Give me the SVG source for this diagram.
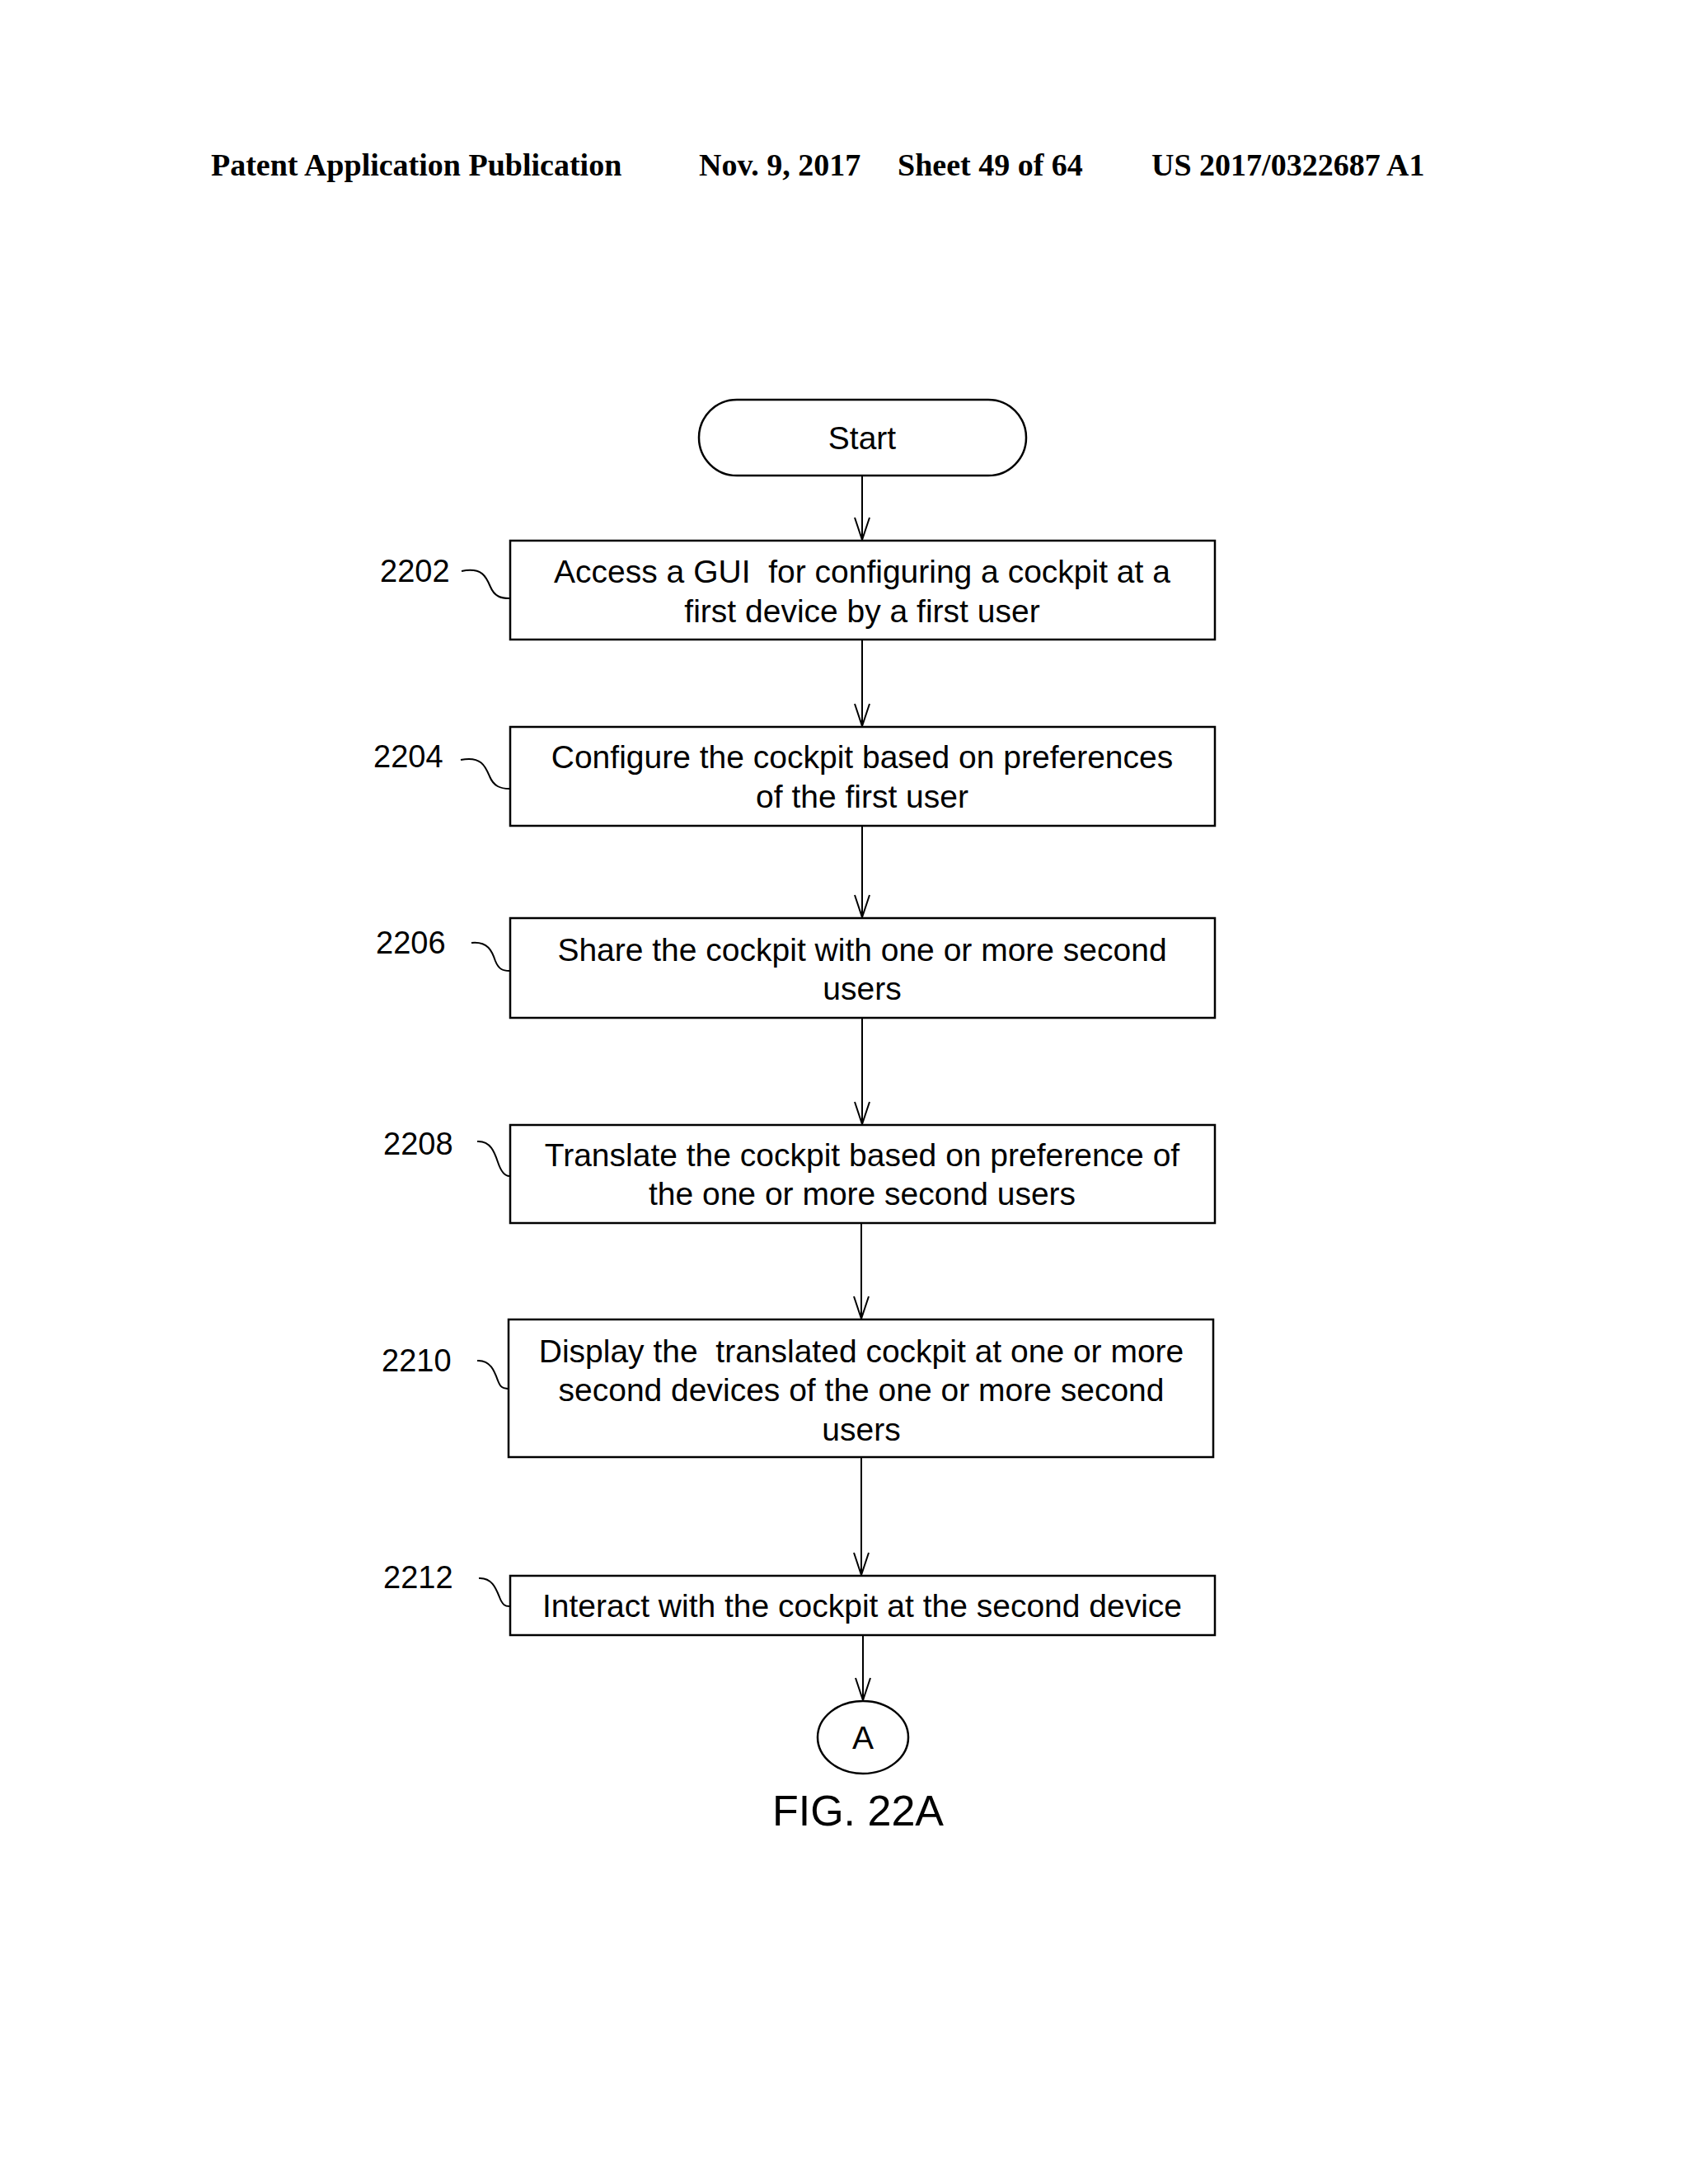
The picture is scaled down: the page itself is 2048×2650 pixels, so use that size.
<svg xmlns="http://www.w3.org/2000/svg" width="2048" height="2650" viewBox="0 0 2048 2650" xml:space="preserve">
<style>
.hd{font-family:"Liberation Serif",serif;font-weight:bold;font-size:38px;fill:#000}
.t{font-family:"Liberation Sans",Arial,sans-serif;font-size:39px;fill:#000;text-anchor:middle;white-space:pre}
.lb{font-family:"Liberation Sans",Arial,sans-serif;font-size:38px;fill:#000}
.b{fill:#fff;stroke:#000;stroke-width:2.5}
.c{fill:none;stroke:#000;stroke-width:2}
</style>
<defs><marker id="ar" markerWidth="30" markerHeight="20" refX="28" refY="10" orient="auto" markerUnits="userSpaceOnUse" viewBox="0 0 30 20"><path d="M1,1 L28,10 L1,19" fill="none" stroke="#000" stroke-width="2"/></marker></defs>
<rect width="2048" height="2650" fill="#fff"/>
<text class="hd" x="256" y="213">Patent Application Publication</text>
<text class="hd" x="848" y="213">Nov. 9, 2017</text>
<text class="hd" x="1089" y="213">Sheet 49 of 64</text>
<text class="hd" x="1397" y="213">US 2017/0322687 A1</text>
<g id="connectors">
<line class="c" x1="1046" y1="577" x2="1046" y2="655" marker-end="url(#ar)"/>
<line class="c" x1="1046" y1="776" x2="1046" y2="881" marker-end="url(#ar)"/>
<line class="c" x1="1046" y1="1002" x2="1046" y2="1113" marker-end="url(#ar)"/>
<line class="c" x1="1046" y1="1235" x2="1046" y2="1364" marker-end="url(#ar)"/>
<line class="c" x1="1045" y1="1484" x2="1045" y2="1600" marker-end="url(#ar)"/>
<line class="c" x1="1045" y1="1768" x2="1045" y2="1911" marker-end="url(#ar)"/>
<line class="c" x1="1047" y1="1984" x2="1047" y2="2063" marker-end="url(#ar)"/>
</g>
<g id="start"><rect class="b" x="848" y="485" width="397" height="92" rx="46"/><text class="t" x="1046" y="545">Start</text></g>
<g id="n2202"><rect class="b" x="619" y="656" width="855" height="120"/>
<text class="t" x="1046" y="707">Access a GUI  for configuring a cockpit at a</text><text class="t" x="1046" y="755">first device by a first user</text>
<text class="lb" x="461" y="706">2202</text><path class="c" d="M560,693 C585,688 590,700 595,712 C600,724 608,726 618,726"/></g>
<g id="n2204"><rect class="b" x="619" y="882" width="855" height="120"/>
<text class="t" x="1046" y="932">Configure the cockpit based on preferences</text><text class="t" x="1046" y="980">of the first user</text>
<text class="lb" x="453" y="931">2204</text><path class="c" d="M559,922 C584,917 589,930 594,942 C599,954 607,957 618,957"/></g>
<g id="n2206"><rect class="b" x="619" y="1114" width="855" height="121"/>
<text class="t" x="1046" y="1166">Share the cockpit with one or more second</text><text class="t" x="1046" y="1213">users</text>
<text class="lb" x="456" y="1157">2206</text><path class="c" d="M572,1144 C592,1142 597,1154 601,1166 C605,1176 610,1178 618,1178"/></g>
<g id="n2208"><rect class="b" x="619" y="1365" width="855" height="119"/>
<text class="t" x="1046" y="1415">Translate the cockpit based on preference of</text><text class="t" x="1046" y="1462">the one or more second users</text>
<text class="lb" x="465" y="1401">2208</text><path class="c" d="M579,1385 C595,1384 600,1398 604,1410 C608,1422 612,1427 618,1427"/></g>
<g id="n2210"><rect class="b" x="617" y="1601" width="855" height="167"/>
<text class="t" x="1045" y="1653">Display the  translated cockpit at one or more</text><text class="t" x="1045" y="1700">second devices of the one or more second</text><text class="t" x="1045" y="1748">users</text>
<text class="lb" x="463" y="1664">2210</text><path class="c" d="M579,1651 C595,1650 600,1664 604,1675 C608,1686 612,1684 617,1685"/></g>
<g id="n2212"><rect class="b" x="619" y="1912" width="855" height="72"/>
<text class="t" x="1046" y="1962">Interact with the cockpit at the second device</text>
<text class="lb" x="465" y="1927">2212</text><path class="c" d="M581,1915 C597,1914 602,1928 606,1938 C610,1948 613,1949 618,1949"/></g>
<g id="connA"><ellipse class="b" cx="1047" cy="2108" rx="55" ry="44"/><text class="t" x="1047" y="2122">A</text></g>
<text x="1041" y="2215" font-family="Liberation Sans,Arial,sans-serif" font-size="52" text-anchor="middle">FIG. 22A</text>
</svg>
